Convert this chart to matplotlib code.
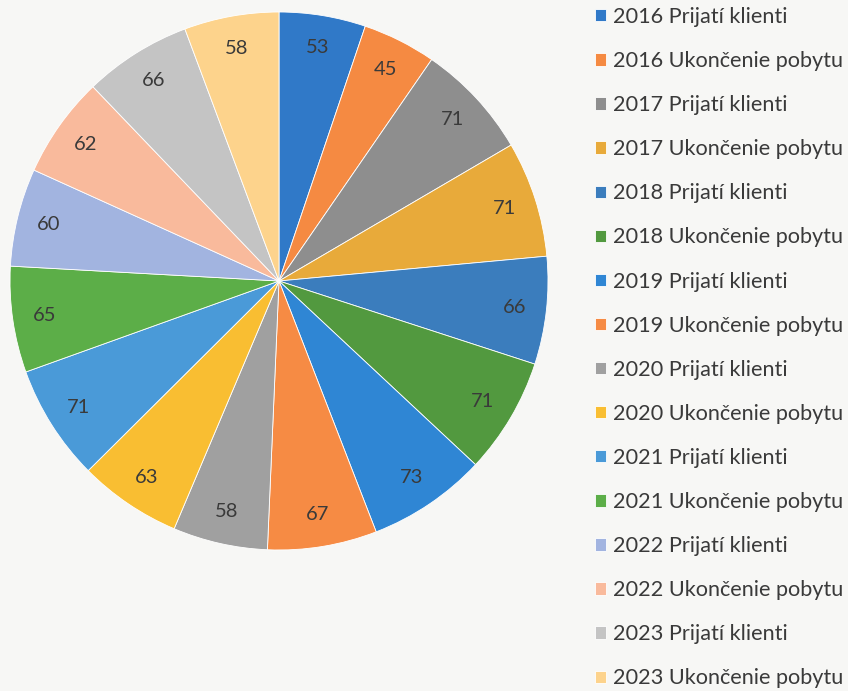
import matplotlib.pyplot as plt

# počty klientov podľa roku
labels = ['2016 Prijatí klienti', '2016 Ukončenie pobytu',
          '2017 Prijatí klienti', '2017 Ukončenie pobytu',
          '2018 Prijatí klienti', '2018 Ukončenie pobytu',
          '2019 Prijatí klienti', '2019 Ukončenie pobytu',
          '2020 Prijatí klienti', '2020 Ukončenie pobytu',
          '2021 Prijatí klienti', '2021 Ukončenie pobytu',
          '2022 Prijatí klienti', '2022 Ukončenie pobytu',
          '2023 Prijatí klienti', '2023 Ukončenie pobytu']
values = [53, 45, 71, 71, 66, 71, 73, 67, 58, 63, 71, 65, 60, 62, 66, 58]
colors = ['#3079C8', '#F58A42', '#8E8E8E', '#E8AA3A',
          '#3B7DBD', '#52993F', '#2F86D4', '#F68B44',
          '#A0A0A0', '#F9BE32', '#4A9AD8', '#5CAE48',
          '#A2B4E0', '#F9BA9C', '#C4C4C4', '#FDD38C']

plt.rcParams['font.family'] = ['Lato', 'DejaVu Sans']

W, H = 848, 691
fig = plt.figure(figsize=(W / 100, H / 100), dpi=100, facecolor='#F7F7F5')

cx, cy, r = 279, 281, 269
ax = fig.add_axes([(cx - r) / W, (H - cy - r) / H, 2 * r / W, 2 * r / H])
wedges, texts = ax.pie(values, colors=colors, startangle=90, counterclock=False,
                       labels=[str(v) for v in values], labeldistance=0.88,
                       wedgeprops=dict(edgecolor='white', linewidth=0.6),
                       textprops=dict(fontsize=14.5, color='#3A3A3A'))
for t in texts:
    t.set_ha('center')
    t.set_va('center')
ax.set_xlim(-1, 1)
ax.set_ylim(-1, 1)
ax.set_aspect('equal')
ax.axis('off')

fig.legend(wedges, labels, loc='upper left', bbox_to_anchor=(595 / W, 1 - 7 / H),
           frameon=False, fontsize=15.6, handlelength=0.5, handleheight=0.5,
           handletextpad=0.35, labelspacing=1.112, borderaxespad=0, borderpad=0,
           labelcolor='#3A3A3A')

plt.savefig('out.png', dpi=100, facecolor=fig.get_facecolor())
